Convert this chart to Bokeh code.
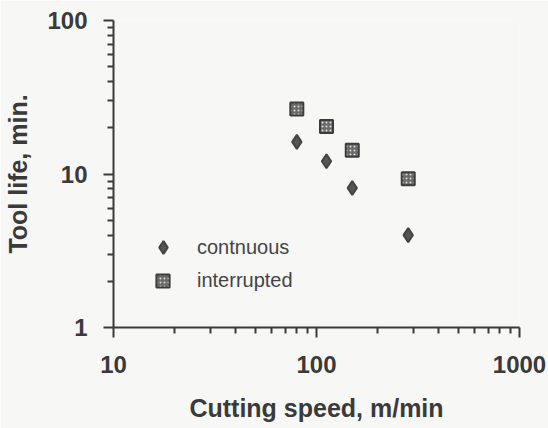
from bokeh.plotting import figure
from bokeh.models import Range1d, FixedTicker, Legend, LegendItem, PrintfTickFormatter
from bokeh.embed import file_html
from bokeh.resources import INLINE

# Data
cutting_speed = [80, 112, 150, 283]            # m/min
life_continuous = [16.2, 12.1, 8.1, 4.0]       # min
life_interrupted = [26.5, 20.4, 14.3, 9.3]     # min
series_names = ["contnuous", "interrupted"]
major_ticks_x = [10, 100, 1000]
major_ticks_y = [1, 10, 100]

BG = "#f7f7f5"
INK = "#3a3a3a"
FONT = "Liberation Sans"

minor_x = [m * d for d in (10, 100) for m in range(2, 10)]
minor_y = [m * d for d in (1, 10) for m in range(2, 10)]

p = figure(width=548, height=428, x_axis_type="log", y_axis_type="log",
           x_range=Range1d(10, 1000), y_range=Range1d(1, 100),
           output_backend="svg", toolbar_location=None,
           min_border_left=113, min_border_right=29,
           min_border_top=20, min_border_bottom=101,
           background_fill_color=BG, border_fill_color=BG)
p.outline_line_color = None
p.xgrid.visible = False
p.ygrid.visible = False

p.xaxis.ticker = FixedTicker(ticks=major_ticks_x, minor_ticks=minor_x)
p.yaxis.ticker = FixedTicker(ticks=major_ticks_y, minor_ticks=minor_y)
p.xaxis.formatter = PrintfTickFormatter(format="%d")
p.yaxis.formatter = PrintfTickFormatter(format="%d")
p.xaxis.axis_label = "Cutting speed, m/min"
p.yaxis.axis_label = "Tool life, min."

for ax in (p.xaxis, p.yaxis):
    ax.axis_line_color = INK
    ax.axis_line_width = 2
    ax.major_tick_line_color = INK
    ax.major_tick_line_width = 2
    ax.minor_tick_line_color = INK
    ax.minor_tick_line_width = 2
    ax.major_tick_out = 10
    ax.major_tick_in = 0
    ax.minor_tick_out = 6
    ax.minor_tick_in = 0
    ax.major_label_text_font = FONT
    ax.major_label_text_font_style = "bold"
    ax.major_label_text_font_size = "24px"
    ax.major_label_text_color = INK
    ax.axis_label_text_font = FONT
    ax.axis_label_text_font_style = "bold"
    ax.axis_label_text_font_size = "25px"
    ax.axis_label_text_color = INK

p.xaxis.major_label_standoff = 18
p.xaxis.axis_label_standoff = 18
p.yaxis.major_label_standoff = 16
p.yaxis.axis_label_standoff = 12

r_cont = p.scatter(cutting_speed, life_continuous, marker="diamond", size=14,
                   fill_color="#555555", line_color="#444444", line_width=2)
r_int = p.scatter(cutting_speed, life_interrupted, marker="square", size=13,
                  fill_color="#6a6a6a", line_color="#3c3c3c", line_width=2,
                  hatch_pattern="dot", hatch_color="#dcdcdc", hatch_scale=4,
                  hatch_weight=1.5)

def make_legend(renderer, label, glyph, loc, standoff):
    lg = Legend(items=[LegendItem(label=label, renderers=[renderer])],
                location=loc, glyph_width=glyph, glyph_height=glyph,
                label_standoff=standoff, padding=0, margin=0, spacing=0,
                border_line_color=None, background_fill_alpha=0,
                label_text_font=FONT, label_text_font_size="20px",
                label_text_color="#444444")
    return lg

p.add_layout(make_legend(r_cont, series_names[0], 32, (34, 64), 18), "center")
p.add_layout(make_legend(r_int, series_names[1], 33, (33, 30), 18), "center")

open("out.html", "w").write(file_html(p, INLINE))
